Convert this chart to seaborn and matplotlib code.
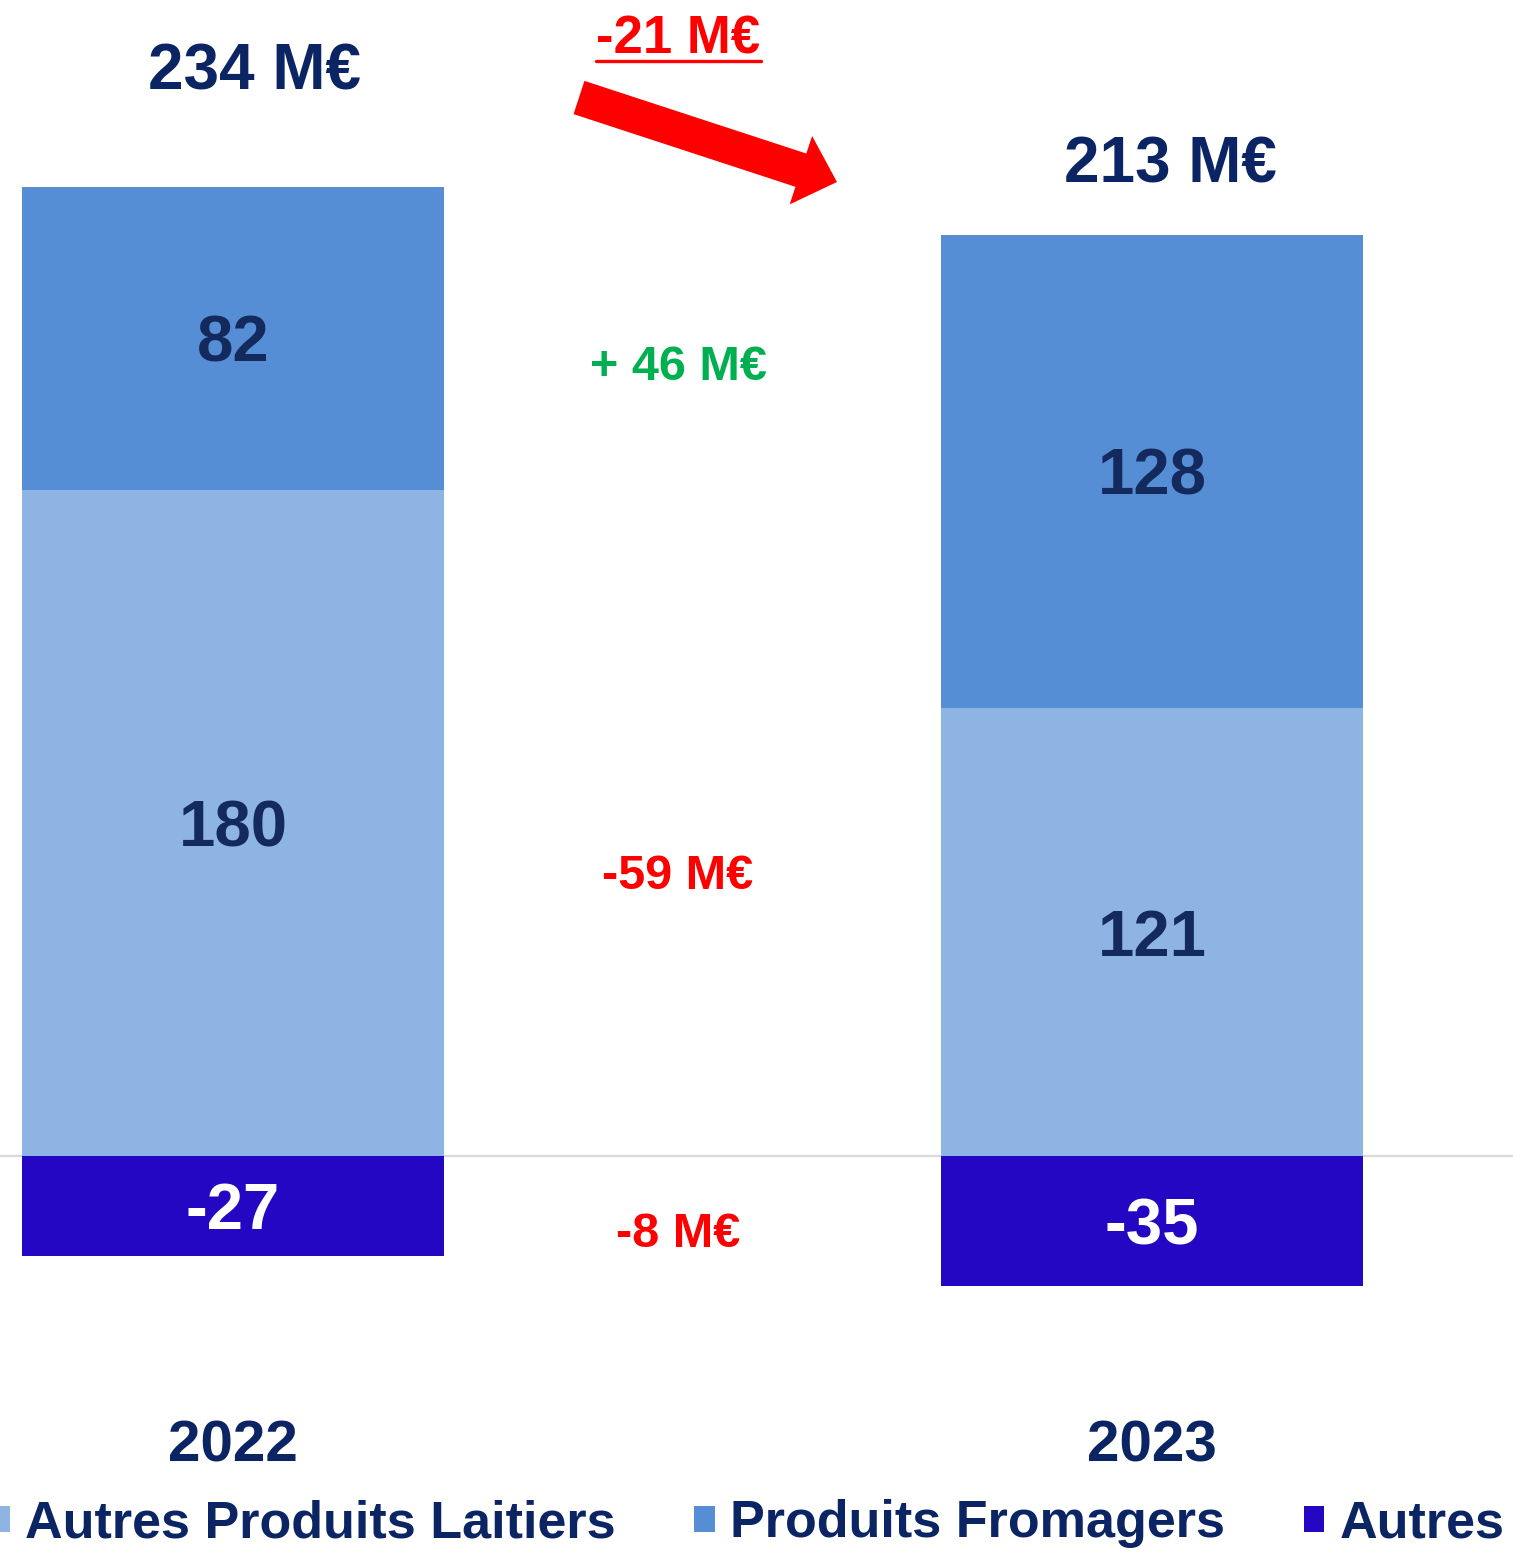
import matplotlib
matplotlib.use("Agg")
import matplotlib.pyplot as plt
from matplotlib.patches import Patch, FancyArrow
from matplotlib.lines import Line2D
from matplotlib.transforms import IdentityTransform
import seaborn as sns
import pandas as pd

# Data (M€)
years = ["2022", "2023"]
laitiers = [180, 121]      # Autres Produits Laitiers
fromagers = [82, 128]      # Produits Fromagers
autres = [-27, -35]        # Autres
totals = ["234 M€", "213 M€"]
change_total = "-21 M€"
changes = ["+ 46 M€", "-59 M€", "-8 M€"]
series_names = ["Autres Produits Laitiers", "Produits Fromagers", "Autres"]

c_lait = "#8EB4E3"
c_from = "#558ED5"
c_autres = "#2307C3"
navy = "#0B2463"
label_navy = "#14295C"
red = "#FF0000"
green = "#00B050"

sns.set_theme(style="white")
plt.rcParams["font.family"] = ["Liberation Sans", "DejaVu Sans"]
plt.rcParams["font.weight"] = "bold"

W, H = 1513, 1555
fig = plt.figure(figsize=(W / 100, H / 100), dpi=100)
ax = fig.add_axes([0, 0, 1, 1])

# vertical scale: pixels per M€ and zero line position (pixels from top)
PX_PER_UNIT = 3.70
ZERO_PX = 1156
X0_PX, STEP_PX = 233, 919


def cap_half(pt):
    """Half the cap height, in pixels, of Liberation Sans at the given size."""
    return 0.716 * pt * 100 / 72 / 2


def text_px(x, y, s, pt, color, ha="center"):
    """Place text so that its capitals are centred on pixel (x, y)."""
    fig.text(x / W, 1 - (y + cap_half(pt)) / H, s, ha=ha, va="baseline",
             fontsize=pt, color=color, fontweight="bold", zorder=6)


df = pd.DataFrame({
    "year": years,
    "laitiers": laitiers,
    "fromagers": fromagers,
    "autres": autres,
})
df["stack_top"] = df["laitiers"] + df["fromagers"]

bar_w = 0.46
# stacked bars drawn as overlapping cumulative layers
sns.barplot(data=df, x="year", y="stack_top", color=c_from, width=bar_w,
            saturation=1, ax=ax, zorder=2, linewidth=0)
sns.barplot(data=df, x="year", y="laitiers", color=c_lait, width=bar_w,
            saturation=1, ax=ax, zorder=3, linewidth=0)
sns.barplot(data=df, x="year", y="autres", color=c_autres, width=bar_w,
            saturation=1, ax=ax, zorder=3, linewidth=0)

ax.axhline(0, color="#D9D9D9", lw=1.6, zorder=1)

ax.set_xlim(-X0_PX / STEP_PX, (W - X0_PX) / STEP_PX)
ax.set_ylim(-(H - ZERO_PX) / PX_PER_UNIT, ZERO_PX / PX_PER_UNIT)
ax.axis("off")

# segment values, centred in each segment
lab_pt = 47
for i in range(len(years)):
    for val, mid in ((fromagers[i], laitiers[i] + fromagers[i] / 2),
                     (laitiers[i], laitiers[i] / 2),
                     (autres[i], autres[i] / 2)):
        col = "white" if val < 0 else label_navy
        ax.text(i, mid - cap_half(lab_pt) / PX_PER_UNIT, f"{val}", ha="center",
                va="baseline", fontsize=lab_pt, color=col, fontweight="bold",
                zorder=5)
    ax.text(i, (ZERO_PX - 1462) / PX_PER_UNIT, years[i], ha="center",
            va="baseline", fontsize=42, color=navy, fontweight="bold")

# totals above bars
text_px(255, 67, totals[0], 46, navy)
text_px(1170, 160, totals[1], 46, navy)

# changes between the years
text_px(678, 363, changes[0], 35, green)
text_px(678, 872, changes[1], 35, red)
text_px(678, 1230, changes[2], 35, red)

# overall change with underline and arrow
text_px(678, 35, change_total, 38, red)
fig.add_artist(Line2D([596, 761], [H - 61, H - 61], color=red, lw=2.4,
                      transform=IdentityTransform()))
fig.add_artist(FancyArrow(579, H - 97.5, 837 - 579, -(182 - 97.5), width=35,
                          head_width=72, head_length=38,
                          length_includes_head=True, color=red, lw=0,
                          transform=IdentityTransform()))

handles = [Patch(facecolor=c, edgecolor="none") for c in (c_lait, c_from, c_autres)]
leg_pt = 37.5
fig.legend(handles, series_names, ncol=3, loc="center right",
           bbox_to_anchor=(1505 / W, 1 - 1524 / H), bbox_transform=fig.transFigure,
           frameon=False, handlelength=0.4, handleheight=0.4,
           handletextpad=0.3, columnspacing=1.5, borderpad=0, borderaxespad=0,
           labelcolor=navy, prop={"weight": "bold", "size": leg_pt})

fig.savefig("out.png", dpi=100)
